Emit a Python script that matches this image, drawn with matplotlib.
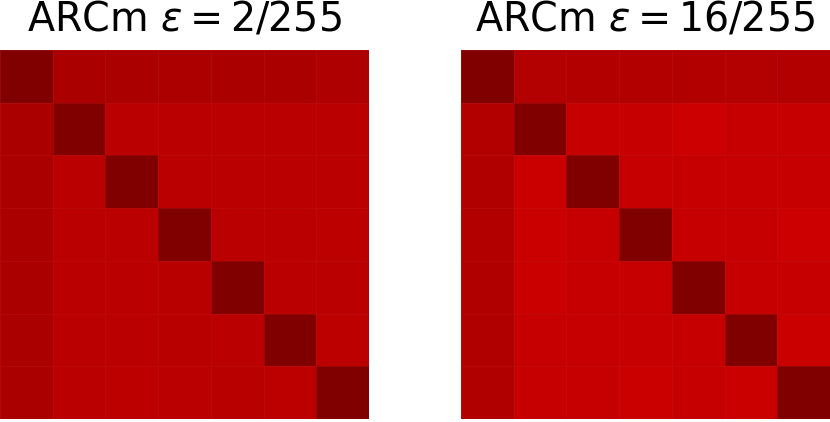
import numpy as np
import matplotlib
matplotlib.use("Agg")
import matplotlib.pyplot as plt

titles = [r"ARCm $\varepsilon = 2/255$", r"ARCm $\varepsilon = 16/255$"]

sim_eps2 = [
    [1.000, 0.915, 0.915, 0.913, 0.915, 0.915, 0.910],
    [0.915, 1.000, 0.885, 0.885, 0.885, 0.885, 0.885],
    [0.915, 0.885, 1.000, 0.885, 0.885, 0.885, 0.885],
    [0.915, 0.885, 0.885, 1.000, 0.885, 0.885, 0.880],
    [0.915, 0.885, 0.885, 0.888, 1.000, 0.885, 0.885],
    [0.915, 0.885, 0.885, 0.888, 0.885, 1.000, 0.880],
    [0.915, 0.885, 0.880, 0.885, 0.888, 0.880, 1.000],
]

sim_eps16 = [
    [1.000, 0.895, 0.900, 0.900, 0.900, 0.898, 0.900],
    [0.900, 1.000, 0.860, 0.860, 0.850, 0.860, 0.860],
    [0.905, 0.855, 1.000, 0.860, 0.860, 0.860, 0.860],
    [0.900, 0.855, 0.860, 1.000, 0.860, 0.860, 0.850],
    [0.905, 0.855, 0.860, 0.860, 1.000, 0.860, 0.860],
    [0.905, 0.860, 0.860, 0.860, 0.860, 1.000, 0.855],
    [0.905, 0.860, 0.860, 0.855, 0.860, 0.855, 1.000],
]

fig = plt.figure(figsize=(8.3, 4.22), dpi=100)
W, H = 830, 422
boxes = [(0, 50, 369, 369), (461, 50, 369, 369)]

for (x0, y0, w, h), data, title in zip(boxes, [sim_eps2, sim_eps16], titles):
    ax = fig.add_axes([x0 / W, 1 - (y0 + h) / H, w / W, h / H])
    arr = np.array(data)
    ax.pcolormesh(arr, cmap="seismic", vmin=0, vmax=1,
                  edgecolors=(0.75, 0.1, 0.1, 0.35), linewidth=0.6)
    ax.set_xlim(0, arr.shape[1])
    ax.set_ylim(arr.shape[0], 0)
    ax.set_xticks([])
    ax.set_yticks([])
    for s in ax.spines.values():
        s.set_visible(False)
    fig.text((x0 + w / 2) / W, 1 - 19 / H, title, ha="center", va="center",
             fontsize=28.5, family="DejaVu Sans")

fig.savefig("out.png", dpi=100)
